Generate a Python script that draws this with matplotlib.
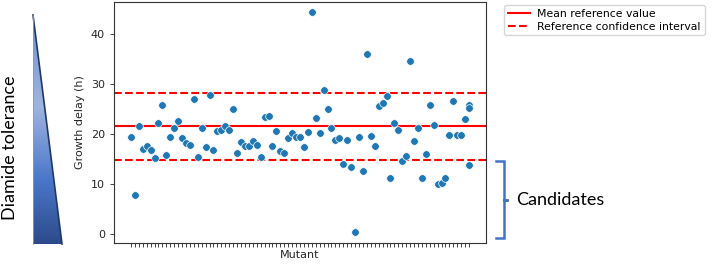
import numpy as np
import matplotlib
matplotlib.use("Agg")
import matplotlib.pyplot as plt
from matplotlib.patches import Polygon
from matplotlib.colors import LinearSegmentedColormap

# growth delay per mutant (h); the last mutant has three measurements
delays = [19.5, 7.8, 21.6, 17.0, 17.6, 16.8, 15.3, 22.1, 25.7, 15.8,
          19.5, 21.2, 22.6, 19.3, 18.1, 17.9, 26.9, 15.5, 21.2, 17.5,
          27.8, 16.8, 20.7, 20.8, 21.6, 20.9, 24.9, 16.2, 18.5, 17.7,
          17.7, 18.6, 17.9, 15.5, 23.3, 23.6, 17.7, 20.6, 16.6, 16.1,
          19.3, 20.1, 19.5, 19.5, 17.5, 20.5, 44.3, 23.1, 20.1, 28.7,
          24.9, 21.2, 18.9, 19.2, 14.1, 18.8, 13.4, 0.5, 19.4, 12.7,
          35.9, 19.7, 17.7, 25.6, 26.2, 27.5, 11.3, 22.2, 20.9, 14.7,
          15.6, 34.5, 18.7, 21.1, 11.3, 16.0, 25.8, 21.7, 10.1, 10.3,
          11.3, 19.8, 26.5, 19.9, 19.9, 22.9]
last_mutant = [25.8, 25.1, 13.9]

ref_mean = 21.5
ref_ci = [14.9, 28.2]
yticks = [0, 10, 20, 30, 40]

x = list(range(len(delays))) + [len(delays)] * len(last_mutant)
y = delays + last_mutant
n_mut = len(delays) + 1

fig = plt.figure(figsize=(7.13, 2.65), dpi=100)
ax = fig.add_axes([114 / 713, 22 / 265, 372 / 713, 241 / 265])

ax.axhline(ref_mean, color="red", lw=1.5, label="Mean reference value")
ax.axhline(ref_ci[0], color="red", lw=1.5, ls="--", label="Reference confidence interval")
ax.axhline(ref_ci[1], color="red", lw=1.5, ls="--")
ax.scatter(x, y, s=30, color="#1f77b4", edgecolor="white", linewidth=0.5, zorder=3)

ax.set_xticks(range(n_mut))
ax.set_xticklabels([""] * n_mut)
ax.set_yticks(yticks)
ax.set_xlim(-4.3, n_mut - 1 + 4.3)
ax.set_ylim(-1.8, 46.4)
ax.tick_params(labelsize=8, colors="#262626", length=3, width=0.6)
ax.tick_params(axis="x", pad=1)
ax.set_xlabel("Mutant", fontsize=8, color="#262626", labelpad=1)
ax.set_ylabel("Growth delay (h)", fontsize=8, color="#262626")
for sp in ax.spines.values():
    sp.set_linewidth(0.8)
    sp.set_color("#333333")

ax.legend(loc="upper left", bbox_to_anchor=(1.035, 1.01), fontsize=7.8,
          frameon=True, handlelength=2.0, handletextpad=0.7, borderpad=0.35,
          labelspacing=0.25)

# decorations in pixel coordinates
deco = fig.add_axes([0, 0, 1, 1], zorder=-1)
deco.axis("off")

grad = LinearSegmentedColormap.from_list(
    "tri", [(0, "#6f90d2"), (0.4, "#9fb4e0"), (0.72, "#4a77c9"), (1, "#2c4a8a")])
tri = [(33, 15), (33, 244), (62, 244)]
img = deco.imshow(np.linspace(0, 1, 256).reshape(-1, 1), cmap=grad, aspect="auto",
                  extent=(33, 62, 244, 15), origin="upper")
clip = Polygon(tri, closed=True, facecolor="none", edgecolor="none")
deco.add_patch(clip)
img.set_clip_path(clip)
deco.plot([33, 62], [15, 244], color="#1f3864", lw=1.2)
deco.plot([33, 33], [15, 244], color="#7f9bd4", lw=0.6)

deco.plot([496, 504, 504, 508, 504, 504, 496],
          [161, 161, 200, 200, 200, 238, 238], color="#4472c4", lw=1.8,
          solid_joinstyle="miter")
deco.set_xlim(0, 713)
deco.set_ylim(265, 0)

fig.text(10 / 713, 1 - 148 / 265, "Diamide tolerance", rotation=90, ha="center", va="center",
         fontsize=13, family="Lato")
fig.text(516 / 713, 1 - 200 / 265, "Candidates", ha="left", va="center",
         fontsize=13, family="Lato")

fig.savefig("out.png", dpi=100)
